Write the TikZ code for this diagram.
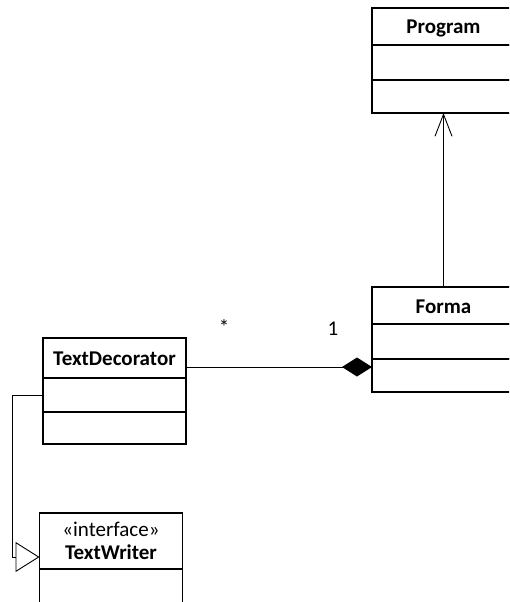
\documentclass[tikz,border=0pt]{standalone}
\usepackage{fontspec}
\setmainfont{Carlito}
\usetikzlibrary{arrows.meta}

\begin{document}
\begin{tikzpicture}[x=1pt,y=-1pt,
  part/.style={draw, line width=1.5pt, inner sep=0pt, outer sep=0pt,
    minimum width=143pt, anchor=north, font=\fontsize{21}{24}\selectfont},
  ttl/.style={part, text height=15pt, text depth=0pt,
    font=\fontsize{21}{24}\selectfont\bfseries},
  lbl/.style={inner sep=0pt, font=\fontsize{21}{24}\selectfont},
  conn/.style={line width=0.9pt}]
\useasboundingbox (0,0) rectangle (509,602);
\clip (0,0) rectangle (509,602);
\fill[white] (0,0) rectangle (509,602);

% Program
\node[ttl, minimum height=37pt] (prog) at (443.5,8) {Program};
\node[part, minimum height=35pt] (prog2) at (443.5,45) {};
\node[part, minimum height=33pt] (prog3) at (443.5,80) {};

% Forma
\node[ttl, minimum height=37pt] (forma) at (443.5,287) {Forma};
\node[part, minimum height=35pt] (forma2) at (443.5,324) {};
\node[part, minimum height=33pt] (forma3) at (443.5,359) {};

% TextDecorator
\node[ttl, minimum height=40pt] (td) at (114.5,338) {TextDecorator};
\node[part, minimum height=34pt] (td2) at (114.5,378) {};
\node[part, minimum height=32pt] (td3) at (114.5,412) {};

% TextWriter
\node[part, minimum height=56pt, align=center] (tw) at (111,513)
  {«interface»\\[-1pt]\textbf{TextWriter}};
\node[part, minimum height=40pt] (tw2) at (111,569) {};

% connectors
\coordinate (ly) at (0,367);
\coordinate (gy) at (0,557);
\draw[conn, -{Straight Barb[length=22pt,width=17pt,line width=0.9pt]}]
  (forma.north) -- (prog3.south);
\draw[conn, {Diamond[length=30pt,width=19pt]}-]
  (forma2.west |- ly) -- (td.east |- ly);
\draw[conn, -{Triangle[open,length=24pt,width=30pt,line width=0.9pt]}]
  (td2.west) -- ++(-31,0) |- (tw.west |- gy);

% multiplicities
\node[lbl] (mstar) at (224,327) {*};
\node[lbl] (mone) at (333,329) {1};
\end{tikzpicture}
\end{document}
